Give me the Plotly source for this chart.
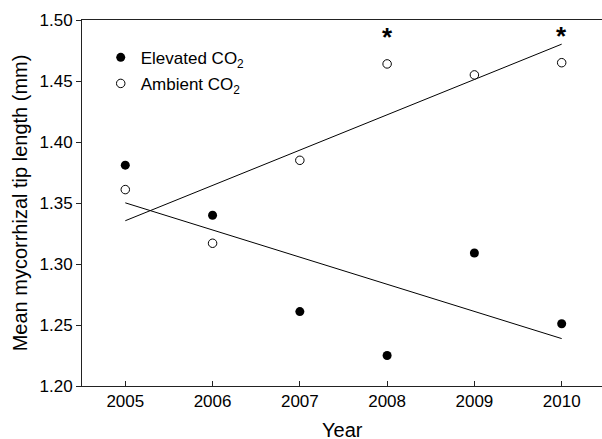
import numpy as np
import plotly.graph_objects as go

years = [2005, 2006, 2007, 2008, 2009, 2010]
elevated = [1.381, 1.340, 1.261, 1.225, 1.309, 1.251]
ambient = [1.361, 1.317, 1.385, 1.464, 1.455, 1.465]
significant_years = [2008, 2010]
y_ticks = [1.20, 1.25, 1.30, 1.35, 1.40, 1.45, 1.50]

FONT = "Liberation Sans, Arial, sans-serif"

x = np.array(years, dtype=float)
fit_e = np.polyval(np.polyfit(x, elevated, 1), x)
fit_a = np.polyval(np.polyfit(x, ambient, 1), x)

fig = go.Figure()
fig.add_trace(go.Scatter(x=years, y=fit_a, mode="lines", line=dict(color="black", width=1),
                         showlegend=False, hoverinfo="skip"))
fig.add_trace(go.Scatter(x=years, y=fit_e, mode="lines", line=dict(color="black", width=1),
                         showlegend=False, hoverinfo="skip"))
fig.add_trace(go.Scatter(x=years, y=elevated, mode="markers", name="Elevated CO<sub>2</sub>",
                         legendgroup="e",
                         marker=dict(size=9, color="black", line=dict(width=0))))
fig.add_trace(go.Scatter(x=years, y=ambient, mode="markers", name="Ambient CO<sub>2</sub>",
                         legendgroup="a",
                         marker=dict(size=8.5, color="white", line=dict(width=1, color="black"))))

for yr in significant_years:
    v = ambient[years.index(yr)]
    fig.add_annotation(x=yr, y=v, text="<b>*</b>", showarrow=False, yanchor="middle",
                       yshift=27, font=dict(size=26, color="black", family=FONT))

fig.add_annotation(x=0.5, y=-0.084, xref="paper", yref="paper", text="Year",
                   showarrow=False, xanchor="center", yanchor="top",
                   font=dict(size=20, color="black", family=FONT))

fig.update_layout(
    width=602, height=439,
    margin=dict(l=82, r=0, t=20, b=53),
    paper_bgcolor="white", plot_bgcolor="white",
    font=dict(family=FONT, color="black", size=17),
    legend=dict(x=0.036, y=0.946, xanchor="left", yanchor="top",
                bgcolor="rgba(0,0,0,0)", font=dict(size=17, family=FONT),
                traceorder="grouped", tracegroupgap=1, itemwidth=30),
    showlegend=True,
)
fig.update_xaxes(range=[2004.504, 2010.462], tickvals=years, ticks="inside", ticklen=5,
                 tickcolor="#222", showline=True, linecolor="#222", linewidth=1, mirror=True,
                 showgrid=False, zeroline=False, tickfont=dict(size=17))
fig.update_yaxes(range=[1.20, 1.50], tickvals=y_ticks, tickformat=".2f", ticks="outside",
                 ticklen=5, tickcolor="#222", showline=True, linecolor="#222", linewidth=1,
                 showgrid=False, zeroline=False, tickfont=dict(size=17),
                 title=dict(text="Mean mycorrhizal tip length (mm)", font=dict(size=20), standoff=6))

fig.write_html("out.html")
